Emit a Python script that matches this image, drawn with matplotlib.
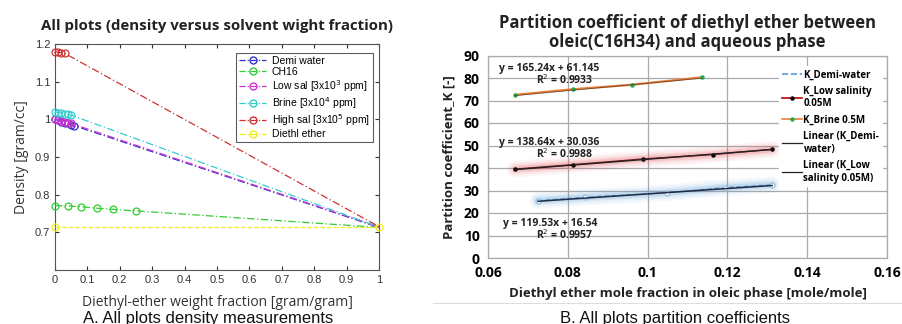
import matplotlib
matplotlib.use("Agg")
import matplotlib.pyplot as plt
from matplotlib.lines import Line2D
import numpy as np

# ---------------- Data: left panel (density vs. weight fraction) ----------------
demi_x = [0.0, 0.01, 0.02, 0.03, 0.04, 0.05, 0.06, 1.0]
demi_y = [1.000, 0.997, 0.994, 0.991, 0.989, 0.986, 0.983, 0.713]
ch16_x = [0.0, 0.04, 0.08, 0.13, 0.18, 0.25, 1.0]
ch16_y = [0.771, 0.770, 0.768, 0.764, 0.761, 0.757, 0.713]
lowsal_x = [0.0, 0.01, 0.02, 0.03, 0.04, 0.05, 1.0]
lowsal_y = [1.001, 0.999, 0.996, 0.994, 0.991, 0.989, 0.714]
brine_x = [0.0, 0.01, 0.02, 0.03, 0.04, 0.05, 1.0]
brine_y = [1.020, 1.018, 1.016, 1.015, 1.013, 1.011, 0.714]
highsal_x = [0.0, 0.01, 0.02, 0.03, 1.0]
highsal_y = [1.180, 1.178, 1.177, 1.175, 0.715]
ether_x = [0.0, 1.0]
ether_y = [0.713, 0.713]

left_series = [
    ("Demi water", demi_x, demi_y, "#3333cc"),
    ("CH16", ch16_x, ch16_y, "#33cc33"),
    ("Low sal [3x10$^3$ ppm]", lowsal_x, lowsal_y, "#cc33cc"),
    ("Brine [3x10$^4$ ppm]", brine_x, brine_y, "#33cccc"),
    ("High sal [3x10$^5$ ppm]", highsal_x, highsal_y, "#cc3333"),
    ("Diethl ether", ether_x, ether_y, "#eeee22"),
]

# ---------------- Data: right panel (partition coefficients) ----------------
kdemi_x = [0.0725, 0.0843, 0.1049, 0.1194, 0.1312]
kdemi_y = [25.5, 27.0, 29.0, 31.3, 32.5]
klow_x = [0.0668, 0.0813, 0.0988, 0.1164, 0.1312]
klow_y = [39.5, 41.5, 44.0, 46.0, 48.3]
kbrine_x = [0.0668, 0.0813, 0.0961, 0.1136]
kbrine_y = [72.5, 75.0, 77.0, 80.3]

fit_demi = (119.53, 16.54)
fit_low = (138.64, 30.036)
fit_brine = (165.24, 61.145)

eq_demi = ["y = 119.53x + 16.54", "R$^2$ = 0.9957"]
eq_low = ["y = 138.64x + 30.036", "R$^2$ = 0.9988"]
eq_brine = ["y = 165.24x + 61.145", "R$^2$ = 0.9933"]

# ---------------- Figure ----------------
fig = plt.figure(figsize=(9.03, 3.24), dpi=100)
W, H = 903, 324

def ax_rect(x0, y0, x1, y1):
    return [x0 / W, 1 - y1 / H, (x1 - x0) / W, (y1 - y0) / H]

sans = ["Liberation Sans", "DejaVu Sans"]
calib = ["Open Sans", "DejaVu Sans"]

# ---- Left ----
ax1 = fig.add_axes(ax_rect(55, 44, 379, 270))
handles = []
for name, xs, ys, col in left_series:
    ls = "--" if name == "Diethl ether" else (0, (6, 2, 1, 2))
    n = len(xs)
    if name == "Diethl ether":
        mk = list(range(n))
    else:
        mk = list(range(n - 1))
    ax1.plot(xs, ys, linestyle=ls, color=col, lw=0.9, marker="o",
             markersize=5, markerfacecolor="none", markeredgecolor=col,
             markeredgewidth=0.9, markevery=mk, clip_on=False, zorder=3)
    handles.append(Line2D([0], [0], color=col, lw=0.9, linestyle=(0, (5, 1.5, 1, 1.5)),
                          marker="o", markersize=5, markerfacecolor="none",
                          markeredgecolor=col, label=name))
ax1.set_xlim(0, 1)
ax1.set_ylim(0.6, 1.2)
ax1.set_xticks(np.arange(0, 1.01, 0.1))
ax1.set_xticklabels(["0", "0.1", "0.2", "0.3", "0.4", "0.5", "0.6", "0.7", "0.8", "0.9", "1"])
ax1.set_yticks([0.7, 0.8, 0.9, 1.0, 1.1, 1.2])
ax1.set_yticklabels(["0.7", "0.8", "0.9", "1", "1.1", "1.2"])
ax1.tick_params(direction="in", top=True, right=True, labelsize=8, length=3,
                colors="#333333", labelcolor="#333333")
for lab in ax1.get_xticklabels() + ax1.get_yticklabels():
    lab.set_family(sans)
for s in ax1.spines.values():
    s.set_color("#555555")
    s.set_linewidth(0.8)
ax1.set_xlabel("Diethyl-ether weight fraction [gram/gram]", fontsize=10,
               family=calib, color="#333333", labelpad=7)
ax1.set_ylabel("Density [gram/cc]", fontsize=10, family=calib, color="#333333", labelpad=4)
ax1.set_title("All plots (density versus solvent wight fraction)", fontsize=10.8,
              fontweight="bold", family=calib, color="#222222", pad=10)
leg1 = ax1.legend(handles=handles, loc="upper right", fontsize=7.5, frameon=True,
                  fancybox=False, edgecolor="#333333", borderpad=0.3,
                  labelspacing=0.12, handlelength=2.6, handletextpad=0.5,
                  prop={"family": sans, "size": 7.5}, bbox_to_anchor=(0.997, 0.985))
leg1.get_frame().set_linewidth(0.8)

# ---- Right ----
ax2 = fig.add_axes(ax_rect(488, 55.5, 887, 258))
ax2.set_xlim(0.06, 0.16)
ax2.set_ylim(0, 90)
ax2.set_xticks([0.06, 0.08, 0.10, 0.12, 0.14, 0.16])
ax2.set_xticklabels(["0.06", "0.08", "0.1", "0.12", "0.14", "0.16"])
ax2.set_yticks(range(0, 91, 10))
ax2.grid(True, color="#aaaaaa", lw=0.9)
ax2.set_axisbelow(True)
ax2.tick_params(length=0, labelsize=10, pad=6)
for lab in ax2.get_xticklabels() + ax2.get_yticklabels():
    lab.set_family(calib)
    lab.set_fontweight("bold")
for s in ax2.spines.values():
    s.set_color("#aaaaaa")
    s.set_linewidth(0.9)

# glow effects
for w, a in [(12, 0.06), (9, 0.08), (6, 0.12), (4, 0.15)]:
    ax2.plot(kdemi_x, kdemi_y, color="#5b9bd5", lw=w, alpha=a, solid_capstyle="round", zorder=2)
    ax2.plot(klow_x, klow_y, color="#e8505b", lw=w, alpha=a, solid_capstyle="round", zorder=2)

ax2.plot(kdemi_x, kdemi_y, color="#5b9bd5", lw=1.0, linestyle="--", marker="o",
         markersize=3.5, markerfacecolor="white", markeredgecolor="#9dc3e6", zorder=3)
ax2.plot(klow_x, klow_y, color="#8b1a1a", lw=1.0, marker="o", markersize=2.2,
         markerfacecolor="black", markeredgecolor="black", zorder=3)
ax2.plot(kbrine_x, kbrine_y, color="#ed7d31", lw=1.6, marker="o", markersize=2.2,
         markerfacecolor="#22aa44", markeredgecolor="#22aa44", zorder=3)

def trend(xs, fit, **kw):
    xx = np.array([min(xs), max(xs)])
    ax2.plot(xx, fit[0] * xx + fit[1], **kw)

trend(kdemi_x, fit_demi, color="#1f2d45", lw=1.1, zorder=4)
trend(klow_x, fit_low, color="#222222", lw=1.0, zorder=4)
trend(kbrine_x, fit_brine, color="#333333", lw=0.6, alpha=0.7, zorder=4)

eqfont = dict(fontsize=7.5, fontweight="bold", family=calib, color="#222222")
for (eq, (x0, y0, x1, y1)) in [
    (eq_brine, (0.0627, 84.2, 0.0720, 79.0)),
    (eq_low, (0.0627, 51.5, 0.0720, 46.2)),
    (eq_demi, (0.0637, 15.5, 0.0720, 10.2)),
]:
    ax2.text(x0, y0, eq[0], va="center", ha="left", zorder=5, **eqfont)
    ax2.text(x1, y1, eq[1], va="center", ha="left", zorder=5, **eqfont)

rh = [
    Line2D([0], [0], color="#5b9bd5", lw=1.2, linestyle="--", label="K_Demi-water"),
    Line2D([0], [0], color="#c00000", lw=1.2, marker="o", markersize=2.2,
           markerfacecolor="black", markeredgecolor="black", label="K_Low salinity\n0.05M"),
    Line2D([0], [0], color="#ed7d31", lw=1.2, marker="o", markersize=2.2,
           markerfacecolor="#22aa44", markeredgecolor="#22aa44", label="K_Brine 0.5M"),
    Line2D([0], [0], color="#222222", lw=0.9, label="Linear (K_Demi-\nwater)"),
    Line2D([0], [0], color="#222222", lw=0.9, label="Linear (K_Low\nsalinity 0.05M)"),
]
leg2 = ax2.legend(handles=rh, loc="upper right", frameon=True, fancybox=False,
                  edgecolor="white", framealpha=1.0, borderpad=0.3,
                  labelspacing=0.55, handlelength=2.0, handletextpad=0.2,
                  prop={"family": calib, "size": 7, "weight": "bold"},
                  bbox_to_anchor=(1.0, 0.97))
leg2.set_zorder(6)

ax2.set_xlabel("Diethyl ether mole fraction in oleic phase [mole/mole]", fontsize=9.5,
               fontweight="bold", family=calib, color="#222222", labelpad=5)
ax2.set_ylabel("Partition coefficient_K [-]", fontsize=9.5, fontweight="bold",
               family=calib, color="#222222", labelpad=6)
ax2.set_title("Partition coefficient of diethyl ether between\noleic(C16H34) and aqueous phase",
              fontsize=12, fontweight="bold", family=calib, color="#222222",
              linespacing=1.1, pad=6)

# captions & separator
fig.text(208 / W, 1 - 318 / H, "A. All plots density measurements", ha="center",
         va="center", fontsize=12, family=sans, color="#111111")
fig.text(675 / W, 1 - 318 / H, "B. All plots partition coefficients", ha="center",
         va="center", fontsize=12, family=sans, color="#111111")
fig.add_artist(Line2D([433 / W, 1.0], [1 - 303 / H, 1 - 303 / H], color="#dddddd", lw=0.8))

fig.savefig("out.png", dpi=100)
